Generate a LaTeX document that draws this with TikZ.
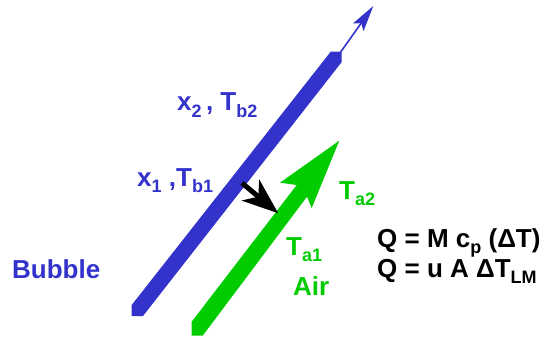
\documentclass[tikz,border=0pt]{standalone}
\usepackage{fontspec}
\setmainfont{Liberation Sans}
\usetikzlibrary{arrows.meta}
\definecolor{bubbleblue}{RGB}{51,51,204}
\definecolor{airgreen}{RGB}{0,204,0}
\newcommand{\lowsub}[1]{\raisebox{-6.5pt}{\fontsize{18}{18}\selectfont #1}}
\newcommand{\bigbold}{\fontsize{26}{30}\selectfont\bfseries}

\begin{document}
\begin{tikzpicture}[x=1pt,y=-1pt,font=\bigbold,
    lab/.style={anchor=base west,inner sep=0pt},
    flowarrow/.style={bubbleblue,line width=1.6pt,
      -{Stealth[length=26pt,width=13pt,inset=5pt]}},
    heatarrow/.style={black,line width=5pt,
      -{Stealth[length=36pt,width=27pt,inset=10pt]}}]
  \useasboundingbox (0,0) rectangle (548,339);

  % Bubble stream: thick band, then a thin arrow for its direction.
  \fill[bubbleblue] (131.7,305) -- (131.7,316) -- (143,316)
    -- (341.7,62) -- (341.7,51.7) -- (330.7,51.7) -- cycle;
  \coordinate (bubbletop) at (340.7,52);
  \coordinate (bubbletip) at (373.3,6);
  \draw[flowarrow] (bubbletop) -- (bubbletip);

  % Air stream: one block arrow.
  \fill[airgreen] (191.7,321.7) -- (191.7,335.7) -- (202.7,335.7)
    -- (307,196.7) -- (311.7,208) -- (339.3,140.7)
    -- (280,182.7) -- (296.7,185) -- cycle;

  % Heat passes from the bubble to the air.
  \coordinate (heatfrom) at (242,183);
  \coordinate (heatto) at (278.3,213.3);
  \draw[heatarrow] (heatfrom) -- (heatto);

  \node[lab,text=bubbleblue] (outlet) at (177,111)
    {x\lowsub{2}\,, T\lowsub{b2}};
  \node[lab,text=bubbleblue] (inlet) at (137,186)
    {x\lowsub{1} ,T\lowsub{b1}};
  \node[lab,text=bubbleblue] (bubble) at (12,278) {Bubble};
  \node[lab,text=airgreen] (airout) at (339,199) {T\lowsub{a2}};
  \node[lab,text=airgreen] (airin) at (286,255) {T\lowsub{a1}};
  \node[lab,text=airgreen] (air) at (293,295) {Air};
  \node[lab] (balance) at (377,247) {Q = M c\lowsub{p} (ΔT)};
  \node[lab] (transfer) at (377,277) {Q = u A ΔT\lowsub{LM}};
\end{tikzpicture}
\end{document}
